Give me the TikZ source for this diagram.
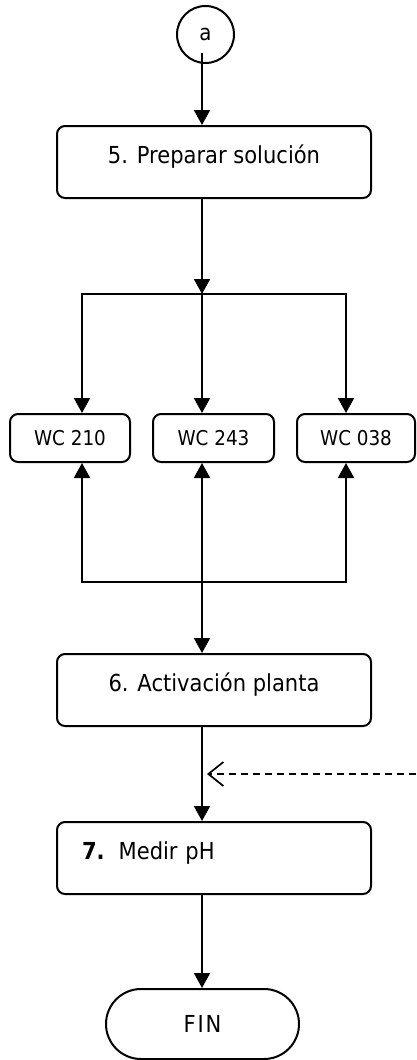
\documentclass[tikz,border=0pt]{standalone}
\usepackage{fontspec}
\setmainfont{DejaVu Sans Condensed}
\newfontfamily\finfont[LetterSpace=8]{DejaVu Sans Condensed}
\usetikzlibrary{arrows.meta,shapes.misc}

\begin{document}
\begin{tikzpicture}[x=1pt,y=-1pt,
  line width=2pt,
  tip/.style={-{Triangle[length=15pt,width=16pt]}},
  twotip/.style={{Triangle[length=15pt,width=16pt]}-{Triangle[length=15pt,width=16pt]}},
  bar/.style={line cap=rect},
  stepbox/.style={draw, rounded corners=8pt, minimum width=314pt, minimum height=72pt,
    inner sep=0pt, font=\fontsize{23.4}{28}\selectfont, text height=18pt, text depth=16pt},
  wcbox/.style={draw, rounded corners=8pt, minimum height=48pt, inner sep=0pt,
    font=\fontsize{20.4}{24}\selectfont},
  feedline/.style={line width=1.5pt, dash pattern=on 7pt off 5pt,
    -{Straight Barb[length=15pt,width=24pt,line width=1.7pt]}},
]
\useasboundingbox (0,0) rectangle (416,1060);

% connector and start
\node[draw, circle, minimum size=57pt, inner sep=0pt,
      font=\fontsize{22}{26}\selectfont] (a) at (205.5,34.5) {a};
\coordinate (aout) at (202,53);

% step 5
\node[stepbox] (s5) at (214,162) {5. Preparar solución};
\draw[tip] (aout) -- (aout |- s5.north);

% split to the three products
\coordinate (split) at (202,294);
\coordinate (lx) at (82,294);
\coordinate (rx) at (346,294);
\draw[tip] (s5.south -| split) -- (split);
\draw[bar] (lx) -- (rx);

\node[wcbox, minimum width=120pt] (w1) at (70,438) {WC 210};
\node[wcbox, minimum width=121pt] (w2) at (213.5,438) {WC 243};
\node[wcbox, minimum width=118pt] (w3) at (356,438) {WC 038};

\draw[tip] (lx) -- (lx |- w1.north);
\draw[tip] (split) -- (split |- w2.north);
\draw[tip] (rx) -- (rx |- w3.north);

% return from the products to step 6
\coordinate (lj) at (82,582);
\coordinate (rj) at (346,582);
\draw[bar] (lj) -- (rj);
\draw[tip] (lj) -- (lj |- w1.south);
\draw[tip] (rj) -- (rj |- w3.south);

\node[stepbox] (s6) at (214,690) {6. Activación planta};
\draw[twotip] (split |- s6.north) -- (split |- w2.south);

% step 7
\node[stepbox, text width=264pt, inner xsep=25pt, align=left] (s7) at (214,858)
  {\textbf{7.}\hspace{14pt}Medir pH};
\draw[tip] (split |- s6.south) -- (split |- s7.north);

% external input
\coordinate (ext) at (416,774);
\coordinate (feed) at (207,774);
\draw[feedline] (ext) -- (feed);

% end
\node[draw, rounded rectangle, minimum width=193pt, minimum height=70pt, inner sep=0pt,
      font=\fontsize{23.4}{28}\selectfont\finfont] (fin) at (202.5,1024) {FIN};
\draw[tip] (split |- s7.south) -- (split |- fin.north);
\end{tikzpicture}
\end{document}
